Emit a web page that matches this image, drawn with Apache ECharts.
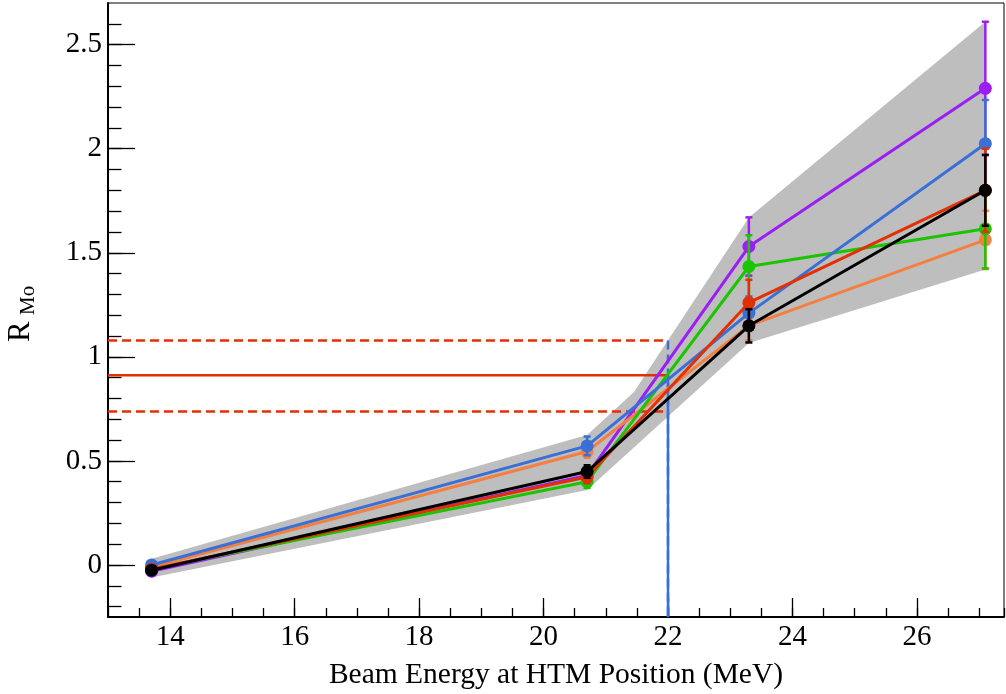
<!DOCTYPE html>
<html>
<head>
<meta charset="utf-8">
<script src="https://cdn.jsdelivr.net/npm/echarts@6/dist/echarts.min.js"></script>
<style>
  html, body { margin: 0; padding: 0; background: #fff; }
  #chart { width: 1006px; height: 694px; }
</style>
</head>
<body>
<div id="chart"></div>
<script>
// Beam energies of the measured points (MeV)
const energies = [13.7, 20.7, 23.3, 27.1];

// R_Mo per configuration, with symmetric uncertainties
const purpleR   = [-0.03, 0.43, 1.53, 2.29];
const purpleErr = [0.01, 0.03, 0.14, 0.32];
const orangeR   = [-0.01, 0.545, 1.15, 1.562];
const orangeErr = [0.01, 0.03, 0.07, 0.14];
const greenR    = [-0.02, 0.40, 1.434, 1.615];
const greenErr  = [0.01, 0.03, 0.15, 0.19];
const blueR     = [0.00, 0.572, 1.21, 2.024];
const blueErr   = [0.01, 0.045, 0.08, 0.21];
const redR      = [-0.02, 0.423, 1.26, 1.80];
const redErr    = [0.01, 0.03, 0.11, 0.20];
const blackR    = [-0.025, 0.449, 1.149, 1.80];
const blackErr  = [0.01, 0.03, 0.08, 0.17];

// Envelope band (upper and lower edges)
const bandUpperE = [13.7, 20.7, 21.45, 23.3, 27.1];
const bandUpper  = [0.03, 0.625, 0.83, 1.67, 2.61];
const bandLowerE = [13.7, 20.7, 23.3, 27.1];
const bandLower  = [-0.06, 0.36, 1.067, 1.42];

// Measured ratio with its uncertainty, and the matching beam energy
const measuredR = 0.911;
const measuredRLow = 0.737;
const measuredRHigh = 1.078;
const matchEnergy = 22;

// Axis ranges and labelled ticks
const xMin = 13, xMax = 27.4;
const yMin = -0.25, yMax = 2.70;
const xMajorTicks = [14, 16, 18, 20, 22, 24, 26];
const yMajorTicks = [0, 0.5, 1, 1.5, 2, 2.5];

// minor ticks every 0.1 on the ratio axis
const yMinorTicks = [];
for (let i = -2; i <= 26; i++) yMinorTicks.push(+(i * 0.1).toFixed(1));

const FONT = '"Liberation Serif", "DejaVu Serif", serif';

function pairs(xs, ys) { return xs.map((x, i) => [x, ys[i]]); }

function pointSeries(name, color, values, z) {
  return {
    name: name, type: 'line', data: pairs(energies, values),
    xAxisIndex: 0, yAxisIndex: 0,
    symbol: 'circle', symbolSize: 13, showSymbol: true,
    lineStyle: { color: color, width: 3 },
    itemStyle: { color: color },
    emphasis: { disabled: true },
    z: z, silent: true, animation: false
  };
}

function errorSeries(color, values, errs, z) {
  return {
    type: 'custom', xAxisIndex: 0, yAxisIndex: 0,
    data: energies.map((x, i) => [x, values[i], errs[i]]),
    encode: { x: 0, y: 1 },
    renderItem: function (params, api) {
      const x = api.value(0), y = api.value(1), e = api.value(2);
      const top = api.coord([x, y + e]);
      const bot = api.coord([x, y - e]);
      const cap = 3.5;
      const st = { stroke: color, lineWidth: 2.5 };
      return {
        type: 'group',
        children: [
          { type: 'line', shape: { x1: top[0], y1: top[1], x2: bot[0], y2: bot[1] }, style: st },
          { type: 'line', shape: { x1: top[0] - cap, y1: top[1], x2: top[0] + cap, y2: top[1] }, style: st },
          { type: 'line', shape: { x1: bot[0] - cap, y1: bot[1], x2: bot[0] + cap, y2: bot[1] }, style: st }
        ]
      };
    },
    z: z, silent: true, animation: false
  };
}

const bandSeries = {
  type: 'custom', xAxisIndex: 0, yAxisIndex: 0,
  data: [[bandUpperE[0], bandUpper[0]]],
  encode: { x: 0, y: 1 },
  renderItem: function (params, api) {
    const pts = [];
    for (let i = 0; i < bandUpperE.length; i++) pts.push(api.coord([bandUpperE[i], bandUpper[i]]));
    for (let i = bandLowerE.length - 1; i >= 0; i--) pts.push(api.coord([bandLowerE[i], bandLower[i]]));
    return { type: 'polygon', shape: { points: pts }, style: { fill: '#bebebe' } };
  },
  z: 1, silent: true, animation: false
};

function refLine(data, color, dashed, z) {
  return {
    type: 'line', xAxisIndex: 0, yAxisIndex: 0, data: data,
    symbol: 'none',
    lineStyle: { color: color, width: 2.5, type: dashed ? [9, 5] : 'solid' },
    z: z, silent: true, animation: false
  };
}

const chart = echarts.init(document.getElementById('chart'), null, { renderer: 'canvas' });

chart.setOption({
  backgroundColor: '#fff',
  animation: false,
  grid: {
    left: 108, right: 2, top: 3, bottom: 77,
    containLabel: false, outerBoundsMode: 'none',
    show: true, borderColor: '#000', borderWidth: 1, backgroundColor: 'transparent'
  },
  xAxis: [
    {
      type: 'value', min: xMin, max: xMax, position: 'bottom',
      axisLine: { show: true, onZero: false, lineStyle: { color: '#000', width: 2 } },
      axisTick: { show: true, inside: true, length: 19, customValues: xMajorTicks, lineStyle: { color: '#000', width: 1.3 } },
      axisLabel: { show: true, customValues: xMajorTicks, margin: 6, color: '#000', fontFamily: FONT, fontSize: 29 },
      splitLine: { show: false },
      name: 'Beam Energy at HTM Position (MeV)', nameLocation: 'middle', nameGap: 43,
      nameTextStyle: { color: '#000', fontFamily: FONT, fontSize: 29.5 }
    },
    {
      type: 'value', min: xMin, max: xMax, position: 'bottom', interval: 0.5,
      axisLine: { show: false, onZero: false },
      axisTick: { show: true, inside: true, length: 9, lineStyle: { color: '#000', width: 1.3 } },
      axisLabel: { show: false },
      splitLine: { show: false }
    }
  ],
  yAxis: [
    {
      type: 'value', min: yMin, max: yMax, position: 'left',
      axisLine: { show: true, onZero: false, lineStyle: { color: '#000', width: 2 } },
      axisTick: { show: true, inside: true, length: 27, customValues: yMajorTicks, lineStyle: { color: '#000', width: 1.3 } },
      axisLabel: { show: true, customValues: yMajorTicks, margin: 6, color: '#000', fontFamily: FONT, fontSize: 29 },
      splitLine: { show: false }
    },
    {
      type: 'value', min: yMin, max: yMax, position: 'left',
      axisLine: { show: false, onZero: false },
      axisTick: { show: true, inside: true, length: 13.5, customValues: yMinorTicks, lineStyle: { color: '#000', width: 1.3 } },
      axisLabel: { show: false },
      splitLine: { show: false }
    }
  ],
  graphic: [
    {
      type: 'group', x: 21, y: 342, rotation: Math.PI / 2,
      children: [
        { type: 'text', x: 0, y: 0, style: { text: 'R', font: '31px ' + FONT, fill: '#000', align: 'left', verticalAlign: 'middle' } },
        { type: 'text', x: 27, y: 7, style: { text: 'Mo', font: '21px ' + FONT, fill: '#000', align: 'left', verticalAlign: 'middle' } }
      ]
    }
  ],
  series: [
    bandSeries,
    refLine(pairs([xMin, matchEnergy], [measuredR, measuredR]), '#e23000', false, 3),
    refLine(pairs([xMin, matchEnergy], [measuredRHigh, measuredRHigh]), '#e23000', true, 3),
    refLine(pairs([xMin, matchEnergy], [measuredRLow, measuredRLow]), '#e23000', true, 3),
    refLine(pairs([matchEnergy, matchEnergy], [measuredRHigh, yMin]), '#3a6fd6', true, 4),
    refLine(pairs([matchEnergy, matchEnergy], [measuredR, yMin]), '#3a6fd6', false, 4),

    errorSeries('#9b1ef5', purpleR, purpleErr, 10),
    pointSeries('purple', '#9b1ef5', purpleR, 11),
    errorSeries('#f47f3f', orangeR, orangeErr, 12),
    pointSeries('orange', '#f47f3f', orangeR, 13),
    errorSeries('#1cc300', greenR, greenErr, 14),
    pointSeries('green', '#1cc300', greenR, 15),
    errorSeries('#3a6fd6', blueR, blueErr, 16),
    pointSeries('blue', '#3a6fd6', blueR, 17),
    errorSeries('#e23000', redR, redErr, 18),
    pointSeries('red', '#e23000', redR, 19),
    errorSeries('#000000', blackR, blackErr, 20),
    pointSeries('black', '#000000', blackR, 21)
  ]
});
</script>
</body>
</html>
